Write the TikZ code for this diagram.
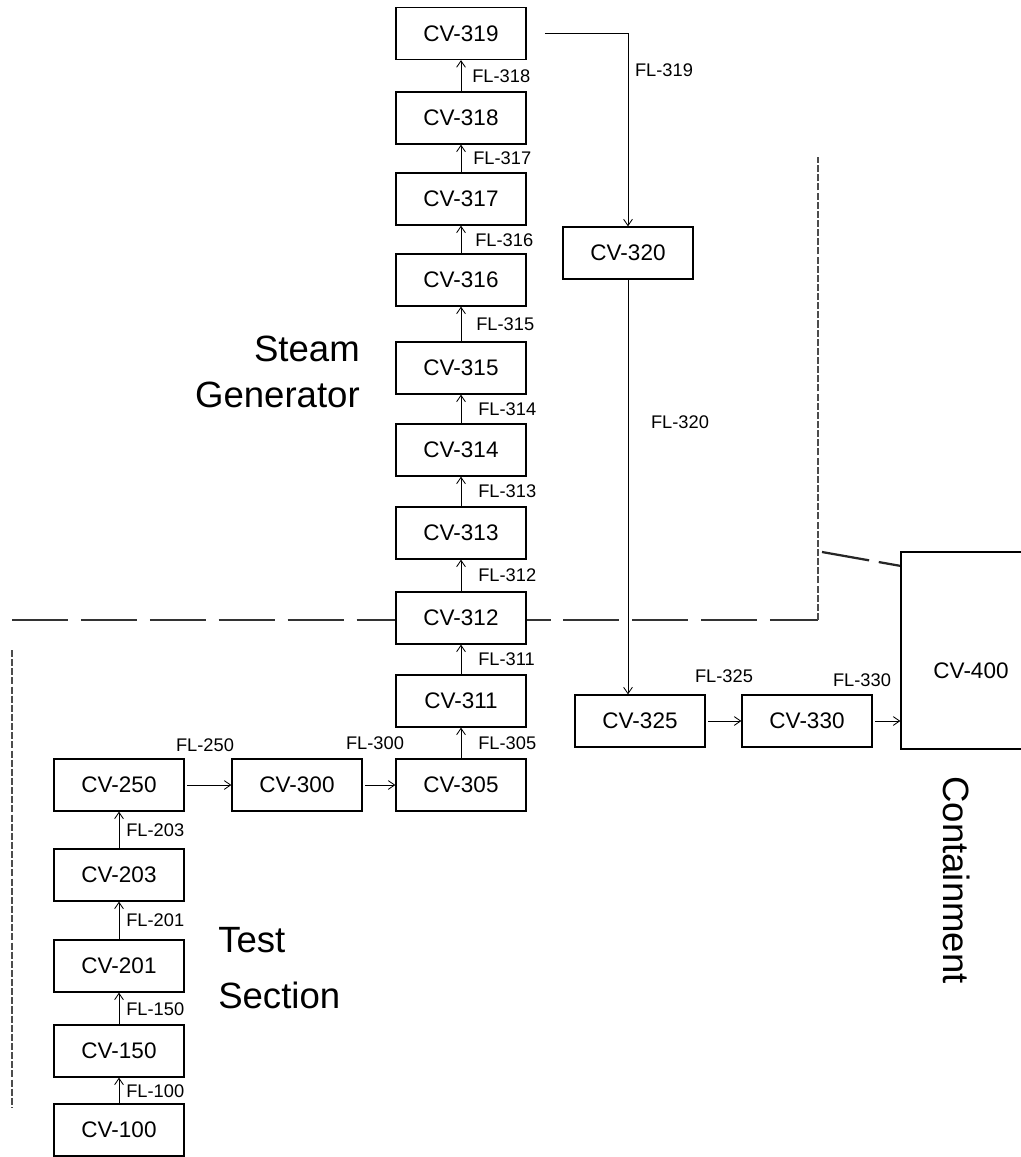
\documentclass[tikz,border=0pt]{standalone}
\usepackage{fontspec}
\setmainfont{Liberation Sans}
\usetikzlibrary{arrows.meta}
\tikzset{
  cv/.style={rectangle,draw=black,line width=0.9pt,fill=white,minimum width=3.25cm,minimum height=1.3cm,inner sep=0pt,font=\fontsize{16}{18}\selectfont},
  fl/.style={font=\fontsize{13}{15}\selectfont,inner sep=0pt,anchor=west},
  region/.style={font=\fontsize{26}{33}\selectfont,inner sep=0pt},
  % control-volume boundaries, scanned look
  bound/.style={line width=0.8pt,black!80,dash pattern=on 40pt off 9pt},
  boundv/.style={line width=0.9pt,black!70,dash pattern=on 5pt off 1.5pt},
}

\begin{document}
\begin{tikzpicture}[x=0.025cm,y=-0.025cm,
  flow/.style={-{Straight Barb[length=1.6mm,width=2.2mm]},line width=0.6pt,black},
  flowh/.style={flow,shorten <=2pt}]
  \useasboundingbox (0,0) rectangle (1020,1157);
  % ---- region boundaries ----
  \draw[bound] (12,620) -- (818,620);
  \draw[boundv] (818,620) -- (818,157);
  \draw[boundv] (12,650) -- (12,1108);
  \draw[line width=1.6pt,black!85,dash pattern=on 34pt off 7pt] (822,552) -- (901,566);
  % ---- test section ----
  \node[cv] (cv100) at (119,1130) {CV-100};
  \node[cv] (cv150) at (119,1051) {CV-150};
  \node[cv] (cv201) at (119,966) {CV-201};
  \node[cv] (cv203) at (119,875) {CV-203};
  \node[cv] (cv250) at (119,785) {CV-250};
  \node[cv] (cv300) at (297,785) {CV-300};
  \draw[flow] (cv100.north) -- (cv150.south);
  \draw[flow] (cv150.north) -- (cv201.south);
  \draw[flow] (cv201.north) -- (cv203.south);
  \draw[flow] (cv203.north) -- (cv250.south);
  \draw[flowh] (cv250.east) -- (cv300.west);
  \node[fl] (fl100) at (126,1091) {FL-100};
  \node[fl] (fl150) at (126,1009) {FL-150};
  \node[fl] (fl201) at (126,920) {FL-201};
  \node[fl] (fl203) at (126,830) {FL-203};
  \node[fl,anchor=center] (fl250) at (205,745) {FL-250};
  \node[region,anchor=west,align=left,font=\fontsize{26}{40}\selectfont] (ts) at (218,968) {Test\\Section};
  % ---- steam generator ----
  \node[cv] (cv305) at (461,785) {CV-305};
  \node[cv] (cv311) at (461,701) {CV-311};
  \node[cv] (cv312) at (461,618) {CV-312};
  \node[cv] (cv313) at (461,533) {CV-313};
  \node[cv] (cv314) at (461,450) {CV-314};
  \node[cv] (cv315) at (461,368) {CV-315};
  \node[cv] (cv316) at (461,280) {CV-316};
  \node[cv] (cv317) at (461,199) {CV-317};
  \node[cv] (cv318) at (461,118) {CV-318};
  \node[cv] (cv319) at (461,33.5) {CV-319};
  \draw[flowh] (cv300.east) -- (cv305.west);
  \draw[flow] (cv305.north) -- (cv311.south);
  \draw[flow] (cv311.north) -- (cv312.south);
  \draw[flow] (cv312.north) -- (cv313.south);
  \draw[flow] (cv313.north) -- (cv314.south);
  \draw[flow] (cv314.north) -- (cv315.south);
  \draw[flow] (cv315.north) -- (cv316.south);
  \draw[flow] (cv316.north) -- (cv317.south);
  \draw[flow] (cv317.north) -- (cv318.south);
  \draw[flow] (cv318.north) -- (cv319.south);
  \node[fl,anchor=center] (fl300) at (375,743) {FL-300};
  \node[fl] (fl305) at (478,743) {FL-305};
  \node[fl] (fl311) at (478,659) {FL-311};
  \node[fl] (fl312) at (478,575) {FL-312};
  \node[fl] (fl313) at (478,491) {FL-313};
  \node[fl] (fl314) at (478,409) {FL-314};
  \node[fl] (fl315) at (476,324) {FL-315};
  \node[fl] (fl316) at (475,240) {FL-316};
  \node[fl] (fl317) at (473,158) {FL-317};
  \node[fl] (fl318) at (472,76) {FL-318};
  \node[region,anchor=east,align=right,font=\fontsize{26}{33}\selectfont] (sg) at (360,372) {Steam\\Generator};
  % ---- downcomer to containment ----
  \node[cv] (cv320) at (628,253) {CV-320};
  \node[cv] (cv325) at (640,721) {CV-325};
  \node[cv] (cv330) at (807,721) {CV-330};
  \node[cv,minimum width=3.5cm,minimum height=4.925cm] (cv400) at (971,650.5) {\raisebox{-0.69cm}[0pt][0pt]{CV-400}};
  \draw[flow,shorten <=13pt] (cv319.east) -| (cv320.north);
  \draw[flow] (cv320.south) -- (cv320.south |- cv325.north);
  \draw[flowh] (cv325.east) -- (cv330.west);
  \draw[flowh] (cv330.east) -- (cv330.east -| cv400.west);
  \node[fl,anchor=center] (fl319) at (664,70) {FL-319};
  \node[fl,anchor=center] (fl320) at (680,422) {FL-320};
  \node[fl,anchor=center] (fl325) at (724,676) {FL-325};
  \node[fl,anchor=center] (fl330) at (862,680) {FL-330};
  \node[region,rotate=-90] (ct) at (957,880) {Containment};
\end{tikzpicture}
\end{document}
